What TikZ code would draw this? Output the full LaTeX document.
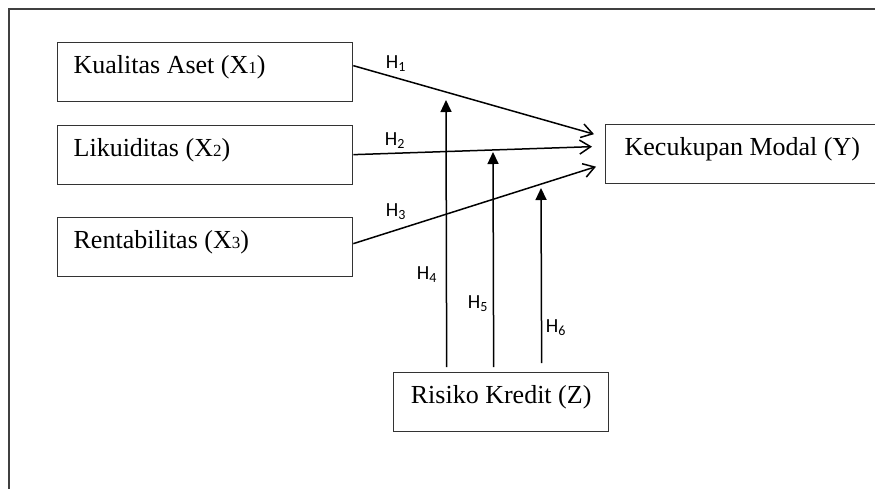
\documentclass[tikz,border=0pt]{standalone}
\usepackage{fontspec}
\setmainfont{Liberation Serif}
\newfontfamily\hfont{Carlito}
\usetikzlibrary{arrows.meta}
\newcommand{\smnum}[1]{{\fontsize{17}{17}\selectfont #1}}
\newcommand{\hyp}[1]{{\hfont\fontsize{20}{24}\selectfont H\textsubscript{#1}}}
\newcommand{\lbox}[2]{\makebox[#1][l]{#2}}
\tikzset{
  varbox/.style={draw=black!80, line width=1.3pt, anchor=north west,
    inner ysep=0pt, text height=31pt, text depth=28pt,
    font=\fontsize{26}{30}\selectfont},
  leftbox/.style={varbox, inner xsep=16pt},
  path/.style={line width=1.5pt, -{Straight Barb[length=11pt,width=14pt,line width=1.5pt]}},
  mod/.style={line width=1.5pt, -{Triangle[length=12pt,width=11pt]}},
  hlabel/.style={inner sep=0pt}
}
\begin{document}
\begin{tikzpicture}[x=1pt,y=-1pt]
  \clip (0,0) rectangle (875,488);
  \fill[white] (0,0) rectangle (875,488);
  % outer frame, running past the page on the right and bottom
  \draw[line width=2pt, black!75] (9,520) -- (9,9) -- (900,9);

  % variables
  \node[leftbox] (x1) at (57,42) {\lbox{263pt}{Kualitas Aset (X\smnum{1})}};
  \node[leftbox] (x2) at (57,125) {\lbox{263pt}{Likuiditas (X\smnum{2})}};
  \node[leftbox] (x3) at (57,217) {\lbox{263pt}{Rentabilitas (X\smnum{3})}};
  \node[varbox, inner xsep=19pt] (y) at (605,124) {\lbox{237pt}{Kecukupan Modal (Y)}};
  \node[varbox, inner xsep=0pt] (z) at (393,372) {\makebox[215pt][c]{Risiko Kredit (Z)}};

  % direct paths
  \draw[path] ([yshift=6.5pt]x1.east) -- ([xshift=-11pt,yshift=20pt]y.west);
  \draw[path] ([yshift=0.5pt]x2.east) -- ([xshift=-13pt,yshift=7.5pt]y.west);
  \draw[path] ([yshift=3.5pt]x3.east) -- ([xshift=-9pt,yshift=-12.5pt]y.west);

  % moderating paths
  \coordinate (t4) at (446,100);
  \coordinate (t5) at (493,152);
  \coordinate (t6) at (541,188);
  \draw[mod] ([xshift=-54.5pt,yshift=5pt]z.north) -- (t4);
  \draw[mod] ([xshift=-7.5pt,yshift=5pt]z.north) -- (t5);
  \draw[mod] ([xshift=40.5pt,yshift=9pt]z.north) -- (t6);

  % hypothesis labels
  \node[hlabel] (h1) at (396,64) {\hyp{1}};
  \node[hlabel] (h2) at (395,141) {\hyp{2}};
  \node[hlabel] (h3) at (396,212) {\hyp{3}};
  \node[hlabel] (h4) at (427,275) {\hyp{4}};
  \node[hlabel] (h5) at (478,304) {\hyp{5}};
  \node[hlabel] (h6) at (556,328) {\hyp{6}};
\end{tikzpicture}
\end{document}
